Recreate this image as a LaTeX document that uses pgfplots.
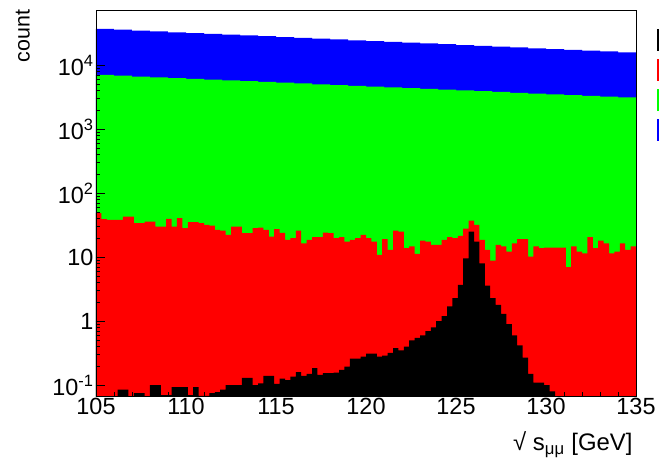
\documentclass[border=0pt]{standalone}
\usepackage{fontspec}
\setmainfont{Liberation Sans}
\usepackage{pgfplots}
\usepackage{pgfplotstable}
\pgfplotsset{compat=1.18}

% Smooth backgrounds, 1 GeV bins (stacked tops: green = cumulative below blue)
\pgfplotstableread{
x     blue   green
105   37000  7100
106   36000  6850
107   34800  6650
108   33700  6480
109   32700  6300
110   31800  6130
111   30900  5960
112   30000  5800
113   29200  5640
114   28400  5480
115   27500  5330
116   26800  5190
117   26000  5040
118   25300  4900
119   24500  4770
120   23800  4640
121   23200  4510
122   22500  4390
123   21900  4270
124   21300  4150
125   20700  4040
126   20100  3930
127   19500  3820
128   19000  3710
129   18400  3610
130   17900  3510
131   17400  3420
132   16900  3320
133   16400  3230
134   15900  3140
135   15500  3050
}\bkgtable

% Fine bins of 0.3 GeV: stacked top of red and the signal itself
\pgfplotstableread{
x      red   sig
105.0  48.7  0.05
105.3  39.2  0.05
105.6  38.3  0.05
105.9  38.3  0.05
106.2  38.3  0.085
106.5  43.1  0.085
106.8  43.1  0.05
107.1  34.0  0.075
107.4  34.0  0.075
107.7  36.0  0.05
108.0  36.0  0.1
108.3  30.1  0.1
108.6  30.1  0.07
108.9  39.6  0.07
109.2  30.1  0.093
109.5  40.6  0.093
109.8  28.4  0.093
110.1  35.2  0.07
110.4  35.2  0.093
110.7  34.0  0.068
111.0  32.0  0.068
111.3  31.2  0.075
111.6  26.7  0.078
111.9  26.1  0.085
112.2  22.3  0.1
112.5  30.1  0.1
112.8  30.1  0.1
113.1  23.7  0.13
113.4  23.7  0.13
113.7  28.4  0.1
114.0  29.0  0.107
114.3  26.7  0.14
114.6  21.0  0.14
114.9  27.4  0.105
115.2  24.0  0.127
115.5  18.6  0.12
115.8  19.8  0.136
116.1  26.1  0.16
116.4  16.5  0.14
116.7  18.6  0.15
117.0  20.5  0.185
117.3  20.5  0.145
117.6  24.2  0.154
117.9  23.7  0.154
118.2  19.8  0.157
118.5  20.5  0.173
118.8  17.5  0.195
119.1  18.6  0.26
119.4  19.8  0.26
119.7  22.3  0.28
120.0  19.8  0.31
120.3  17.5  0.31
120.6  10.9  0.28
120.9  19.1  0.29
121.2  13.0  0.32
121.5  26.1  0.38
121.8  25.1  0.35
122.1  13.8  0.4
122.4  14.7  0.5
122.7  11.3  0.55
123.0  18.2  0.6
123.3  17.5  0.7
123.6  15.6  0.8
123.9  15.6  1.0
124.2  18.6  1.2
124.5  20.5  1.7
124.8  19.8  2.3
125.1  21.5  3.7
125.4  28.0  9.6
125.7  37.4  25
126.0  32.0  17.5
126.3  18.6  8
126.6  13.0  3.6
126.9  8.8   2.3
127.2  15.6  1.8
127.5  14.7  1.3
127.8  12.2  0.9
128.1  16.5  0.6
128.4  19.1  0.42
128.7  19.1  0.27
129.0  10.2  0.15
129.3  14.7  0.11
129.6  13.8  0.11
129.9  14.1  0.1
130.2  14.1  0.08
130.5  14.1  0.05
130.8  14.1  0.05
131.1  7.0   0.05
131.4  14.7  0.05
131.7  12.2  0.05
132.0  11.5  0.05
132.3  20.5  0.05
132.6  13.8  0.05
132.9  18.2  0.05
133.2  16.5  0.05
133.5  11.5  0.05
133.8  12.2  0.05
134.1  16.5  0.05
134.4  13.0  0.05
134.7  14.7  0.05
135.0  14.7  0.05
}\finetable

\begin{document}
\begin{tikzpicture}
\begin{axis}[
  scale only axis,
  width=540bp, height=386.7bp,
  ymode=log,
  log origin=infty,
  xmin=105, xmax=135,
  ymin=0.066, ymax=73000,
  axis on top,
  axis line style={black, line width=0.8bp},
  tick pos=left,
  tick align=inside,
  major tick length=9bp,
  minor tick length=4.5bp,
  tick style={black, line width=0.6bp},
  xtick={105,110,...,135},
  x tick label as interval=false,
  minor x tick num=4,
  ytick={0.1,1,10,100,1000,10000},
  yticklabels={10\textsuperscript{-1},1,10,10\textsuperscript{2},10\textsuperscript{3},10\textsuperscript{4}},
  /pgf/number format/assume math mode=true,
  /pgf/number format/set thousands separator={},
  tick label style={font=\fontsize{23.5}{28}\selectfont},
  xticklabel style={yshift=2bp},
  yticklabel style={xshift=1bp},
  xlabel={√ s\textsubscript{μμ} [GeV]},
  every axis x label/.style={at={(axis description cs:1,-0.124)}, anchor=east,
    font=\fontsize{24}{28}\selectfont},
  ylabel={count},
  every axis y label/.style={at={(axis description cs:-0.155,1.01)}, rotate=90, anchor=north east,
    font=\fontsize{21.5}{26}\selectfont},
  legend image code/.code={\fill[#1] (0bp,-11bp) rectangle (20bp,11bp);},
  reverse legend,
  legend style={at={(axis description cs:1,1)}, anchor=north west,
    xshift=19bp, yshift=-17bp, draw=none, fill=none,
    row sep=8bp, inner sep=2bp},
]
\addplot[ybar interval, fill=blue, draw=none] table[x=x, y=blue] {\bkgtable};
\addlegendentry{}
\addplot[ybar interval, fill=green, draw=none] table[x=x, y=green] {\bkgtable};
\addlegendentry{}
\addplot[ybar interval, fill=red, draw=none] table[x=x, y=red] {\finetable};
\addlegendentry{}
\addplot[ybar interval, fill=black, draw=none] table[x=x, y=sig] {\finetable};
\addlegendentry{}
\end{axis}
\pgfresetboundingbox
\useasboundingbox (-96bp,-69.3bp) rectangle (563bp,396.7bp);
\end{tikzpicture}
\end{document}
